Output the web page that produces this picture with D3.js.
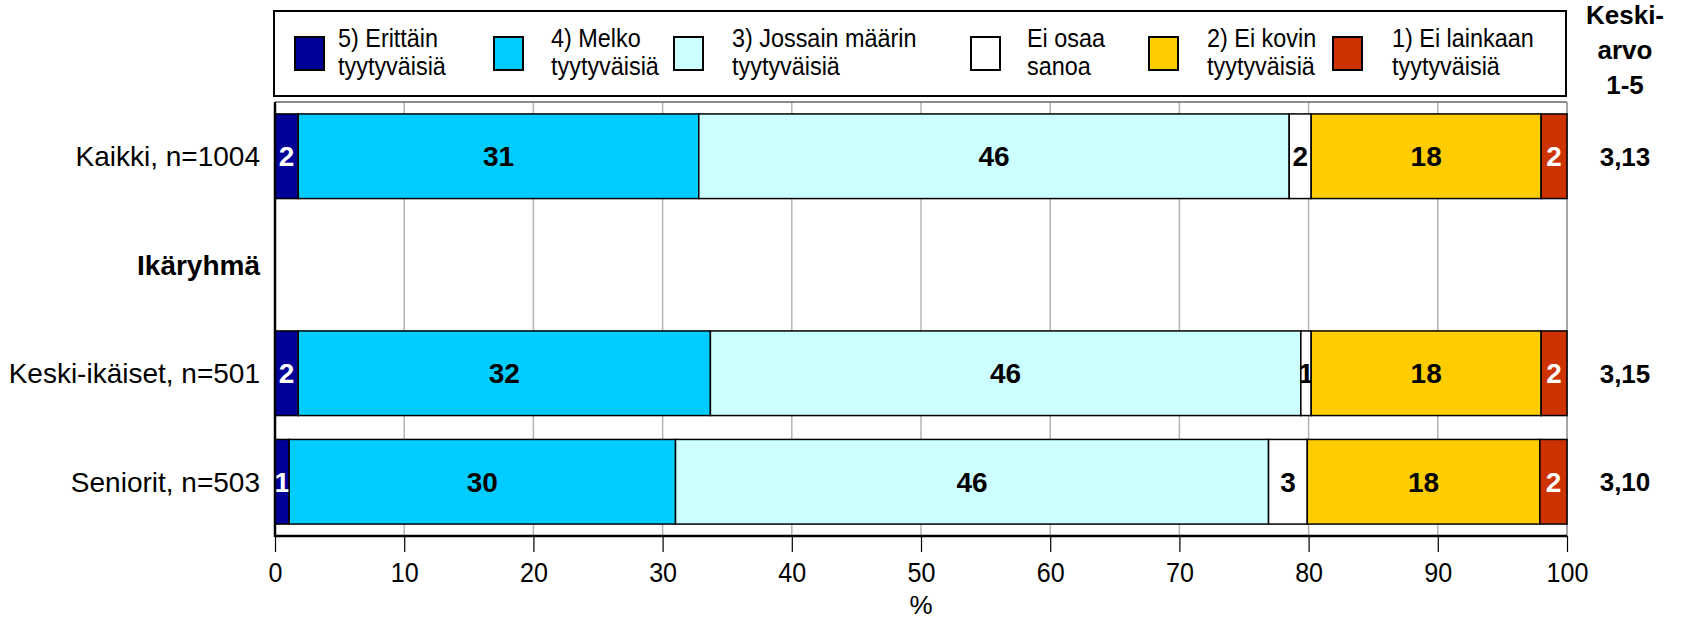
<!DOCTYPE html>
<html><head><meta charset="utf-8">
<script src="https://cdn.jsdelivr.net/npm/d3@7"></script>
<style>
html,body{margin:0;padding:0;background:#fff;}
svg{display:block;font-family:"Liberation Sans",Arial,sans-serif;}
</style></head>
<body><svg id="c" width="1682" height="621"></svg>
<script>
// ---- data ----
const categories = ["Kaikki, n=1004", "Ikäryhmä", "Keski-ikäiset, n=501", "Seniorit, n=503"];
const boldCategories = ["Ikäryhmä"];
const seriesNames = [
  ["5) Erittäin", "tyytyväisiä"],
  ["4) Melko", "tyytyväisiä"],
  ["3) Jossain määrin", "tyytyväisiä"],
  ["Ei osaa", "sanoa"],
  ["2) Ei kovin", "tyytyväisiä"],
  ["1) Ei lainkaan", "tyytyväisiä"]
];
const s5 = [1.8, null, 1.8, 1.1];
const s4 = [31.0, null, 31.9, 29.9];
const s3 = [45.7, null, 45.7, 45.9];
const sEos = [1.7, null, 0.8, 3.0];
const s2 = [17.8, null, 17.8, 18.0];
const s1 = [2.0, null, 2.0, 2.1];
const means = [3.13, null, 3.15, 3.10];
const meanHeader = ["Keski-", "arvo", "1-5"];
const xTicks = [0, 10, 20, 30, 40, 50, 60, 70, 80, 90, 100];
const xTitle = "%";
const colors = ["#000099", "#00CCFF", "#CCFFFF", "#FFFFFF", "#FFCC00", "#CC3300"];
const labelColors = ["#FFFFFF", "#000000", "#000000", "#000000", "#000000", "#FFFFFF"];

// ---- layout ----
const svg = d3.select("#c");
const L = 275, R = 1567, T = 102, B = 536;
const x = d3.scaleLinear().domain([0, 100]).range([L, R]);
const y = d3.scaleBand().domain(categories).range([T, B]).paddingInner(0.22).paddingOuter(0.11);

const series = [s5, s4, s3, sEos, s2, s1];
const rows = categories.map((c, i) => {
  const o = { cat: c };
  series.forEach((s, k) => o["k" + k] = s[i] == null ? 0 : s[i]);
  return o;
});
const stack = d3.stack().keys(series.map((s, k) => "k" + k))(rows);

// gridlines
svg.append("g").selectAll("line").data(xTicks.filter(t => t > 0 && t < 100)).join("line")
  .attr("x1", d => x(d)).attr("x2", d => x(d)).attr("y1", T).attr("y2", B)
  .attr("stroke", "#B4B4B4").attr("stroke-width", 1.5);
// top & right border (gray)
svg.append("line").attr("x1", L).attr("x2", R).attr("y1", T).attr("y2", T).attr("stroke", "#666").attr("stroke-width", 1.5);
svg.append("line").attr("x1", R).attr("x2", R).attr("y1", T).attr("y2", B).attr("stroke", "#888").attr("stroke-width", 1.5);

// bars
stack.forEach((layer, k) => {
  const g = svg.append("g");
  layer.forEach((d, i) => {
    const v = series[k][i];
    if (v == null) return;
    g.append("rect")
      .attr("x", x(d[0])).attr("y", y(categories[i]))
      .attr("width", x(d[1]) - x(d[0])).attr("height", y.bandwidth())
      .attr("fill", colors[k]).attr("stroke", "#000").attr("stroke-width", 1.5);
  });
  layer.forEach((d, i) => {
    const v = series[k][i];
    if (v == null) return;
    g.append("text")
      .attr("x", (x(d[0]) + x(d[1])) / 2).attr("y", y(categories[i]) + y.bandwidth() / 2)
      .attr("dy", "0.36em").attr("text-anchor", "middle")
      .attr("font-size", 28).attr("font-weight", "bold").attr("fill", labelColors[k])
      .text(d3.format(".0f")(v));
  });
});

// left axis line & bottom axis
svg.append("line").attr("x1", L).attr("x2", L).attr("y1", T).attr("y2", B + 1).attr("stroke", "#000").attr("stroke-width", 2.5);
const xAxis = d3.axisBottom(x).tickValues(xTicks).tickSize(16).tickPadding(11).tickFormat(d3.format("d"));
const ax = svg.append("g").attr("transform", `translate(0,${B})`).call(xAxis);
ax.select(".domain").attr("stroke", "#000").attr("stroke-width", 2.5).attr("d", `M${L},0H${R}`);
ax.selectAll(".tick line").attr("stroke", "#000").attr("stroke-width", 1.2);
ax.selectAll(".tick text").attr("font-size", 27).attr("fill", "#000")
  .attr("font-family", "Liberation Sans, Arial, sans-serif").attr("transform", "scale(0.93,1)");
svg.append("text").attr("x", (L + R) / 2).attr("y", 614).attr("text-anchor", "middle")
  .attr("font-size", 26).text(xTitle);

// category labels
svg.append("g").selectAll("text").data(categories).join("text")
  .attr("x", 260).attr("y", d => y(d) + y.bandwidth() / 2).attr("dy", "0.36em")
  .attr("text-anchor", "end").attr("font-size", 28)
  .attr("font-weight", d => boldCategories.includes(d) ? "bold" : "normal")
  .text(d => d);

// means
svg.append("g").selectAll("text").data(means).join("text")
  .attr("x", 1625).attr("y", (d, i) => y(categories[i]) + y.bandwidth() / 2).attr("dy", "0.36em")
  .attr("text-anchor", "middle").attr("font-size", 26).attr("font-weight", "bold")
  .text(d => d == null ? "" : d3.format(".2f")(d).replace(".", ","));
svg.append("g").selectAll("text").data(meanHeader).join("text")
  .attr("x", 1625).attr("y", (d, i) => 24 + i * 35).attr("text-anchor", "middle")
  .attr("font-size", 26).attr("font-weight", "bold").text(d => d);

// legend
svg.append("rect").attr("x", 274).attr("y", 11).attr("width", 1292).attr("height", 85)
  .attr("fill", "#fff").attr("stroke", "#000").attr("stroke-width", 2);
const legX = [295, 494, 674, 971, 1149, 1333];
const legTextX = [338, 551, 732, 1027, 1207, 1392];
const leg = svg.append("g").selectAll("g").data(seriesNames).join("g");
leg.append("rect").attr("x", (d, i) => legX[i]).attr("y", 37).attr("width", 29).attr("height", 33)
  .attr("fill", (d, i) => colors[i]).attr("stroke", "#000").attr("stroke-width", 2);
leg.each(function (d, i) {
  const t = d3.select(this);
  d.forEach((line, j) => t.append("text")
    .attr("transform", `translate(${legTextX[i]},${47 + j * 28}) scale(0.9,1)`)
    .attr("font-size", 26).text(line));
});
</script></body></html>
